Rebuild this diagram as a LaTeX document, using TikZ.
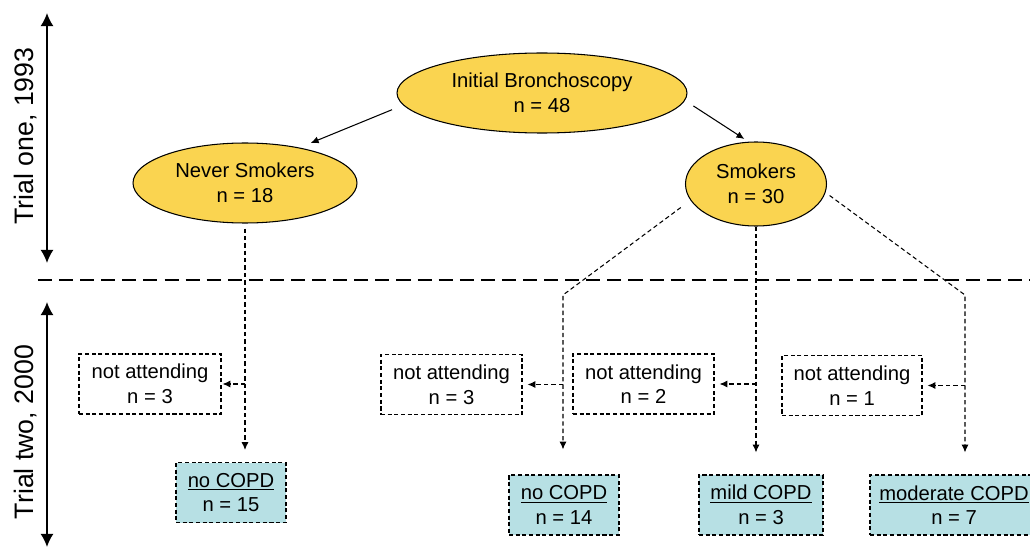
\documentclass[tikz,border=0pt]{standalone}
\usepackage{fontspec}
\setmainfont{Liberation Sans}
\usetikzlibrary{shapes.geometric,arrows.meta}
\definecolor{ellfill}{RGB}{250,212,80}
\definecolor{boxfill}{RGB}{183,224,228}

\begin{document}
\begin{tikzpicture}[
    every node/.style={font=\fontsize{11.5}{14}\selectfont},
    group/.style={shape=ellipse,draw=black,line width=0.6pt,fill=ellfill,inner sep=0pt,align=center},
    dropout/.style={shape=rectangle,draw=black,line width=0.6pt,dash pattern=on 2.3pt off 1.5pt,
        minimum height=1.2cm,inner sep=0pt,align=center},
    outcome/.style={dropout,fill=boxfill},
    flow/.style={-{Latex[length=4.5pt,width=4pt]},line width=0.6pt},
    dflow/.style={flow,dash pattern=on 2.5pt off 1.7pt},
    span/.style={{Latex[length=7.5pt,width=7.5pt]}-{Latex[length=7.5pt,width=7.5pt]},line width=1pt},
    trial/.style={rotate=90,anchor=base,font=\fontsize{15.2}{18}\selectfont}]
  \useasboundingbox (0,0) rectangle (20.6,10.96);

  % trial one
  \node[group,minimum width=5.8cm,minimum height=1.6cm] (init) at (10.84,9.10) {Initial Bronchoscopy\\n = 48};
  \node[group,minimum width=4.48cm,minimum height=1.6cm] (never) at (4.90,7.30) {Never Smokers\\n = 18};
  \node[group,minimum width=2.82cm,minimum height=1.68cm] (smok) at (15.12,7.28) {Smokers\\n = 30};

  % trial two
  \node[dropout,minimum width=2.84cm] (skipNever) at (3.00,3.28) {not attending\\n = 3};
  \node[dropout,minimum width=2.82cm] (skipNone) at (9.03,3.27) {not attending\\n = 3};
  \node[dropout,minimum width=2.82cm] (skipMild) at (12.87,3.28) {not attending\\n = 2};
  \node[dropout,minimum width=2.80cm] (skipModerate) at (17.04,3.25) {not attending\\n = 1};
  \node[outcome,minimum width=2.2cm] (copdNever) at (4.62,1.11) {\underline{no COPD}\\n = 15};
  \node[outcome,minimum width=2.2cm] (copdNone) at (11.28,0.86) {\underline{no COPD}\\n = 14};
  \node[outcome,minimum width=2.48cm] (copdMild) at (15.22,0.86) {\underline{mild COPD}\\n = 3};
  \node[outcome,minimum width=3.36cm] (copdModerate) at (19.08,0.86) {\underline{moderate COPD}\\n = 7};

  \coordinate (sl) at (11.26,5.06);
  \coordinate (sr) at (19.30,5.06);

  \draw[flow,shorten <=0.24cm,shorten >=0.24cm] (init.185) -- (never.33);
  \draw[flow,shorten <=0.2cm,shorten >=0.1cm] (init.357) -- (smok.100);

  \draw[dflow,shorten <=0.1cm,shorten >=0.24cm] (never.south) -- (never.south |- copdNever.north);
  \draw[dflow,shorten >=0.02cm] (never.south |- skipNever.east) -- (skipNever.east);

  \draw[dflow,shorten <=0.24cm,shorten >=0.5cm] (smok.194) -- (sl) -- (sl |- copdNone.north);
  \draw[dflow,shorten >=0.1cm] (sl |- skipNone.east) -- (skipNone.east);

  \draw[dflow,shorten >=0.44cm] (smok.south) -- (smok.south |- copdMild.north);
  \draw[dflow,shorten >=0.1cm] (smok.south |- skipMild.east) -- (skipMild.east);

  \draw[dflow,shorten <=0.1cm,shorten >=0.44cm] (smok.353) -- (sr) -- (sr |- copdModerate.north);
  \draw[dflow,shorten >=0.1cm] (sr |- skipModerate.east) -- (skipModerate.east);

  % divider and time axis
  \coordinate (divL) at (0.76,5.36);
  \coordinate (divR) at (20.6,5.36);
  \draw[line width=1.4pt,dash pattern=on 8pt off 4pt] (divL) -- (divR);

  \coordinate (oneTop) at (0.94,10.70);
  \coordinate (oneBot) at (0.94,5.70);
  \coordinate (twoTop) at (0.94,4.92);
  \coordinate (twoBot) at (0.94,0.02);
  \draw[span] (oneTop) -- (oneBot);
  \draw[span] (twoTop) -- (twoBot);
  \node[trial] (one) at (0.66,8.24) {Trial one, 1993};
  \node[trial] (two) at (0.66,2.32) {Trial two, 2000};
\end{tikzpicture}
\end{document}
